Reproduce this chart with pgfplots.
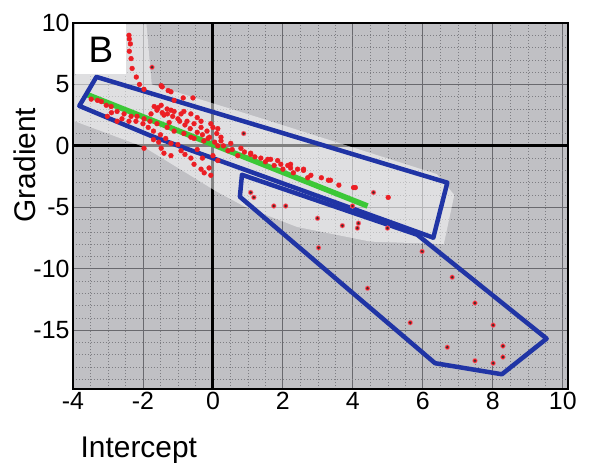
\documentclass[border=0pt]{standalone}
\usepackage{pgfplots}
\pgfplotsset{compat=1.18}
\usepackage{fontspec}
\setmainfont{Liberation Sans}
\definecolor{bggray}{RGB}{192,192,196}
\definecolor{majgrid}{RGB}{105,105,110}
\definecolor{mingrid}{RGB}{125,125,130}
\definecolor{polyblue}{RGB}{32,52,165}
\definecolor{lgreen}{RGB}{60,200,55}
\definecolor{ptred}{RGB}{236,30,36}
\definecolor{ptpink}{RGB}{240,120,140}

\pgfplotstableread{
x y
-2.40 9.0
-2.39 8.7
-2.36 8.3
-2.39 7.7
-2.34 7.1
-2.31 6.3
-2.19 5.6
-2.10 5.0
-1.97 4.6
-1.45 4.8
-1.48 4.9
-1.28 4.5
-1.20 4.4
-0.85 3.9
-0.57 3.9
-1.11 3.7
-0.83 2.8
-3.48 3.8
-3.30 3.7
-3.19 3.6
-3.05 3.3
-2.91 3.2
-2.74 2.8
-2.54 2.6
-2.34 2.4
-2.17 2.4
-1.97 2.2
-2.74 2.0
-3.02 2.4
-2.60 2.2
-2.40 2.0
-1.80 2.0
-1.68 3.2
-1.48 3.3
-1.31 3.0
-1.11 2.8
-0.91 2.6
-0.74 2.0
-0.54 1.8
-0.34 1.5
-0.17 1.2
0.11 1.0
-1.60 1.8
-1.31 1.5
-1.11 1.2
-0.83 1.0
-0.54 0.6
-1.57 3.1
-1.20 2.9
-0.63 2.6
-0.34 2.0
-0.06 1.8
0.14 1.4
-1.77 2.6
-1.00 2.2
-0.45 2.3
0.00 1.5
-1.40 2.5
-1.25 1.9
-1.60 2.9
-1.45 2.7
-1.30 2.6
-1.15 2.4
-0.95 2.0
-0.80 1.7
-0.65 1.4
-0.45 1.1
-0.30 0.9
-0.10 0.7
0.05 0.3
0.30 0.0
0.55 -0.3
0.90 -0.5
1.20 -0.9
1.50 -1.3
1.75 -1.6
2.00 -1.9
2.30 -2.2
2.80 -2.4
3.10 -2.6
3.60 -3.2
-2.90 2.7
-2.20 2.0
-2.00 1.8
-1.85 1.5
-1.70 1.2
-1.50 0.9
-1.35 0.6
-1.70 0.5
-1.00 0.1
-0.45 -0.3
-0.30 -1.0
0.00 -0.8
0.23 0.4
0.51 0.2
0.80 -0.2
1.08 -0.6
1.37 -1.0
1.65 -1.1
1.85 -1.2
2.22 -1.5
2.42 -1.9
0.23 0.7
-0.26 0.4
0.14 0.0
0.43 -0.4
0.71 -0.8
1.08 -0.7
1.57 -1.1
1.94 -1.5
2.22 -1.8
2.59 -2.0
3.36 -2.8
2.14 -1.6
2.59 -1.9
2.71 -2.6
3.30 -2.8
4.02 -3.4
5.01 -4.2
4.07 -3.4
-1.40 -0.6
-1.20 -0.8
-0.91 -0.4
-0.63 -1.0
-0.54 -1.5
-0.34 -1.9
-0.11 -1.8
0.14 -1.2
-0.06 -2.4
-1.20 0.2
-0.63 0.7
-0.14 0.6
-1.48 -0.2
-1.97 -0.2
-1.55 0.3
-0.80 -0.7
-0.25 -2.2
}\densepts

\pgfplotstableread{
x y
-1.74 6.4
0.88 1.0
4.59 -3.8
3.99 -4.9
1.08 -3.8
1.17 -4.2
1.74 -4.9
2.08 -4.9
2.99 -5.9
3.70 -6.5
4.16 -6.3
4.13 -6.7
4.99 -6.7
3.02 -8.3
4.42 -11.6
5.64 -14.4
5.98 -8.6
6.84 -10.7
7.49 -12.8
8.01 -14.6
8.29 -16.3
8.29 -17.2
6.70 -16.4
7.49 -17.5
8.01 -17.7
}\sparsepts

\begin{document}
\begin{tikzpicture}
\begin{axis}[
  scale only axis, width=495bp, height=366bp,
  xmin=-4, xmax=10.15, ymin=-19.8, ymax=10,
  xtick={-4,-2,...,10}, ytick={-20,-15,...,10},
  minor x tick num=3, minor y tick num=4,
  grid=both,
  major grid style={draw=majgrid, line width=0.8bp},
  minor grid style={draw=mingrid, line width=0.5bp, dash pattern=on 1bp off 2bp},
  axis background/.style={fill=bggray},
  axis line style={line width=2.8bp, black},
  major tick length=0pt, minor tick length=0pt,
  /pgf/number format/assume math mode=true,
  tick label style={font=\fontsize{25}{25}\selectfont},
  xlabel={Intercept}, ylabel={Gradient},
  label style={font=\fontsize{30}{30}\selectfont},
  xlabel style={at={(axis description cs:0.133,-0.186)}, anchor=base},
  ylabel style={at={(axis description cs:-0.097,0.612)}, anchor=center},
]
% thick zero lines
\addplot[black, line width=3bp] coordinates {(0,-19.8) (0,10)};
\addplot[black, line width=3bp] coordinates {(-4,0) (10.15,0)};
% light halo around the data
\addplot[draw=none, fill=white, fill opacity=0.5] coordinates {
(-3.95,5.7) (-2.5,9.88) (-1.9,9.88) (-1.75,5.0) (1.2,2.4) (6.4,-2.3)
(6.9,-4.0) (6.6,-8.0) (4.5,-7.8) (2.4,-6.6) (0.94,-5.0) (0.09,-3.7)
(-1.97,-0.1) (-3.95,2.0)};
% B box
\addplot[draw=none, fill=white] coordinates {(-3.95,9.88) (-2.48,9.88) (-2.48,5.85) (-3.95,5.85)};
\node[font=\fontsize{37}{37}\selectfont] at (axis cs:-3.2,7.85) {B};
% red points
\addplot[only marks, mark=*, mark size=2.4bp, color=ptred] table {\densepts};
\addplot[only marks, mark=*, mark size=2.4bp, color=ptpink, fill=ptred] table {\sparsepts};
\addplot[only marks, mark=*, mark size=0.9bp, color=black!80] table {\sparsepts};
% green line
\addplot[lgreen, line width=5.5bp] coordinates {(-3.62,4.2) (4.42,-4.9)};
% blue polygons
\addplot[polyblue, line width=4.5bp, line join=round, line cap=round] coordinates {
(-3.33,5.61) (6.70,-3.0) (6.30,-7.48) (-1.77,0.81) (-3.82,3.25) (-3.33,5.61)};
\addplot[polyblue, line width=4.5bp, line join=round, line cap=round] coordinates {
(0.83,-2.36) (5.84,-7.24) (9.54,-15.7) (8.26,-18.6) (6.35,-17.7) (0.77,-4.15) (0.83,-2.36)};
\end{axis}
\pgfresetboundingbox
\path ([shift={(-73bp,-74bp)}]current axis.south west) rectangle ([shift={(23bp,23bp)}]current axis.north east);
\end{tikzpicture}
\end{document}
